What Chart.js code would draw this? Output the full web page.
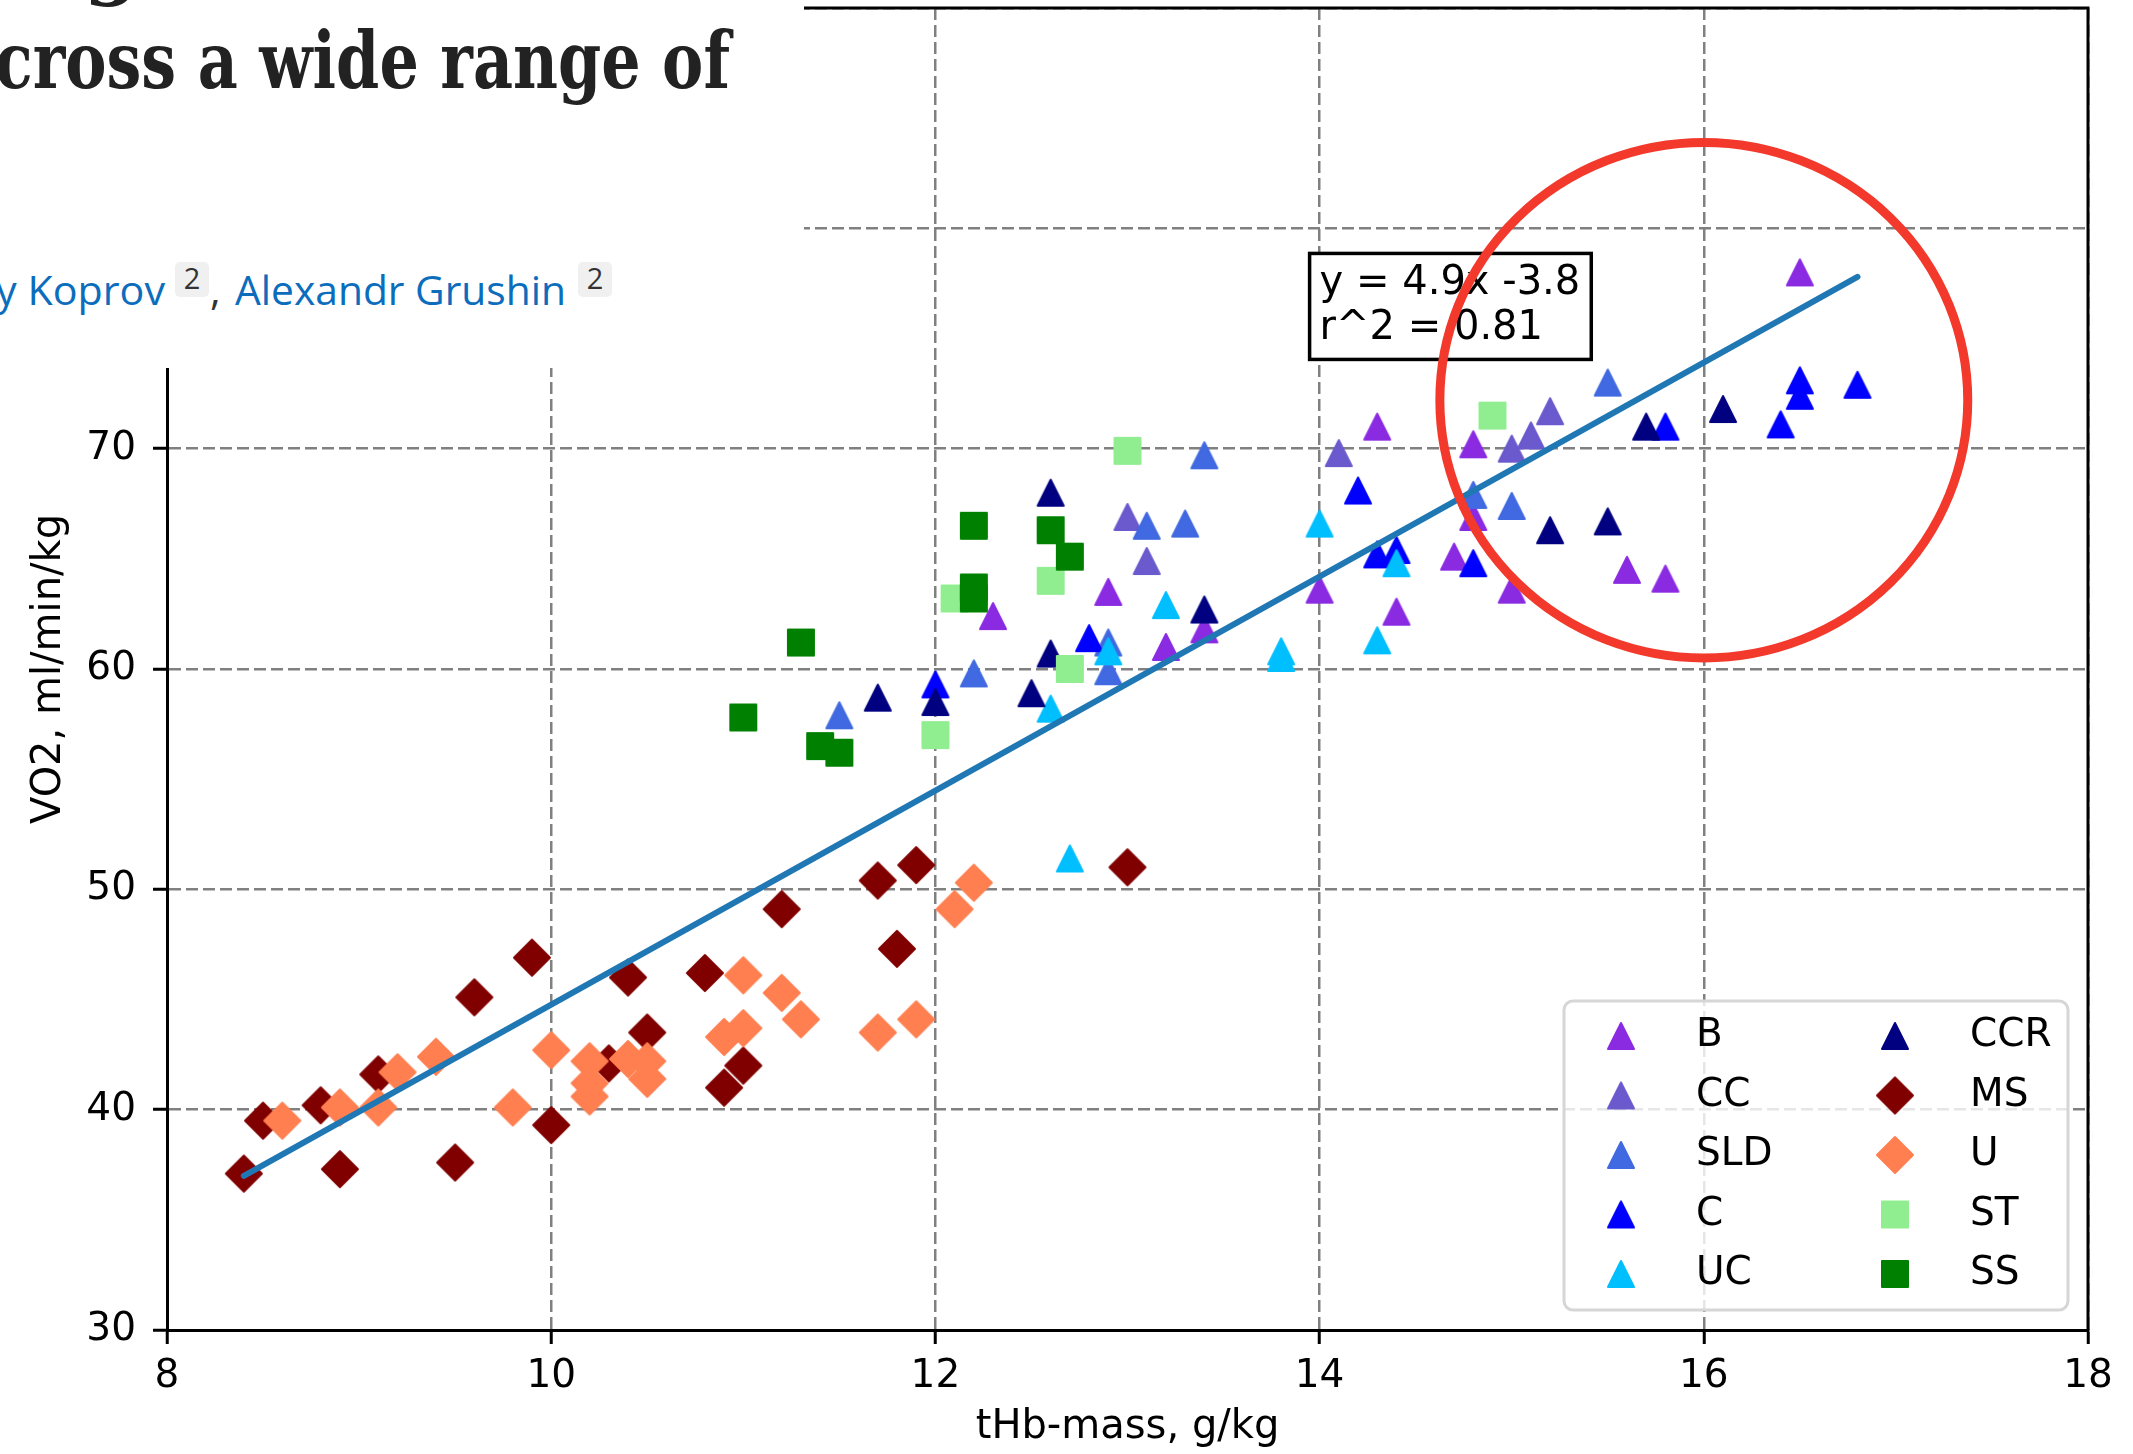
<!DOCTYPE html>
<html><head><meta charset="utf-8">
<script src="https://cdn.jsdelivr.net/npm/chart.js@4.4.0/dist/chart.umd.min.js"></script>
<style>
html,body{margin:0;padding:0;background:#fff;overflow:hidden;}
#wrap{position:relative;width:2133px;height:1454px;}
#c{position:absolute;left:0;top:0;}
#ov{position:absolute;left:0;top:0;}
</style></head><body>
<div id="wrap">
<canvas id="c" width="2133" height="1454"></canvas>
<svg id="ov" width="804" height="368" xmlns="http://www.w3.org/2000/svg">
  <rect x="0" y="0" width="804" height="368" fill="#ffffff"/>
  <text x="84" y="-10" font-family="DejaVu Serif" font-weight="bold" font-size="78" fill="#222">g</text>
  <text x="-5" y="88" font-family="DejaVu Serif" font-weight="bold" font-size="78" fill="#222" textLength="735" lengthAdjust="spacingAndGlyphs">cross a wide range of</text>
  <text x="-4" y="305" font-family="Open Sans" font-size="41" fill="#0c6dbd" textLength="169" lengthAdjust="spacingAndGlyphs">y Koprov</text>
  <rect x="175" y="262" width="34" height="35" rx="5" fill="#f0f0f0"/>
  <text x="192" y="289" text-anchor="middle" font-family="Open Sans" font-size="29" fill="#333">2</text>
  <text x="210" y="305" font-family="Open Sans" font-size="41" fill="#333">,</text>
  <text x="235" y="305" font-family="Open Sans" font-size="41" fill="#0c6dbd" textLength="331" lengthAdjust="spacingAndGlyphs">Alexandr Grushin</text>
  <rect x="578" y="262" width="34" height="35" rx="5" fill="#f0f0f0"/>
  <text x="595" y="289" text-anchor="middle" font-family="Open Sans" font-size="29" fill="#333">2</text>
</svg>
</div>
<script>
// ---------- DATA ----------
const categories = ['B','CC','SLD','C','UC','CCR','MS','U','ST','SS'];
const colors = ['#8a2be2','#6a5acd','#4169e1','#0000ff','#00bfff','#000080','#800000','#ff7f50','#90ee90','#008000'];
const shapes = ['tri','tri','tri','tri','tri','tri','dia','dia','sq','sq'];

const B_x = [16.5, 14.8, 14.3, 14.8, 14.7, 15.0, 15.6, 15.8, 14.0, 14.4, 12.9, 12.3, 13.4, 13.2];
const B_y = [78.0, 70.2, 71.0, 66.9, 65.1, 63.6, 64.5, 64.1, 63.6, 62.6, 63.5, 62.4, 61.8, 61.0];

const CC_x = [15.2, 15.1, 15.0, 14.1, 13.0, 13.1];
const CC_y = [71.7, 70.6, 70.0, 69.8, 66.9, 64.9];

const SLD_x = [15.5, 13.4, 14.8, 15.0, 13.1, 13.3, 12.9, 12.9, 12.2, 11.5];
const SLD_y = [73.0, 69.7, 67.9, 67.4, 66.5, 66.6, 61.2, 59.9, 59.8, 57.9];

const C_x = [16.5, 16.5, 16.8, 16.4, 15.8, 14.2, 14.8, 14.3, 14.4, 12.8, 12.0];
const C_y = [73.1, 72.4, 72.9, 71.1, 71.0, 68.1, 64.8, 65.2, 65.4, 61.4, 59.3];

const UC_x = [14.0, 14.4, 13.2, 14.3, 12.9, 13.8, 13.8, 12.6, 12.7];
const UC_y = [66.6, 64.8, 62.9, 61.3, 60.8, 60.8, 60.5, 58.2, 51.4];

const CCR_x = [16.1, 15.7, 12.6, 15.2, 15.5, 13.4, 12.6, 12.5, 12.0, 11.7];
const CCR_y = [71.8, 71.0, 68.0, 66.3, 66.7, 62.7, 60.7, 58.9, 58.5, 58.7];

const MS_x = [8.4, 8.5, 8.8, 8.9, 9.1, 9.5, 9.6, 9.9, 10.0, 10.3, 10.4, 10.5, 10.8, 10.9, 11.0, 11.2, 11.7, 11.8, 11.9, 13.0];
const MS_y = [37.1, 39.5, 40.2, 37.3, 41.6, 37.6, 45.1, 46.9, 39.3, 42.1, 46.0, 43.5, 46.2, 41.0, 42.0, 49.1, 50.4, 47.3, 51.1, 51.0];

const U_x = [8.6, 8.9, 9.1, 9.2, 9.4, 9.8, 10.0, 10.2, 10.2, 10.2, 10.4, 10.5, 10.5, 10.9, 11.0, 11.0, 11.2, 11.3, 11.7, 11.9, 12.1, 12.2];
const U_y = [39.5, 40.1, 40.1, 41.7, 42.4, 40.1, 42.7, 42.2, 41.2, 40.6, 42.3, 42.2, 41.4, 43.3, 43.7, 46.1, 45.3, 44.1, 43.5, 44.1, 49.1, 50.3];

const ST_x = [13.0, 12.6, 12.7, 12.0, 12.1, 14.9];
const ST_y = [69.9, 64.0, 60.0, 57.0, 63.2, 71.5];

const SS_x = [11.0, 11.3, 11.4, 11.5, 12.2, 12.2, 12.2, 12.6, 12.7];
const SS_y = [57.8, 61.2, 56.5, 56.2, 66.5, 63.7, 63.2, 66.3, 65.1];

const fitX = [8.4, 16.8];
const fitY = [37.0, 77.8];
const fitText = ['y = 4.9x -3.8', 'r^2 = 0.81'];
const fitTextAt = {x: 14.0, y: 77.0};

const xTicks = [8, 10, 12, 14, 16, 18];
const yTicks = [30, 40, 50, 60, 70, 80, 90];
const xTitle = 'tHb-mass, g/kg';
const yTitle = 'VO2, ml/min/kg';

const highlight = {x: 16.0, y: 72.2, rx: 1.374, ry: 11.7};

const seriesX = [B_x, CC_x, SLD_x, C_x, UC_x, CCR_x, MS_x, U_x, ST_x, SS_x];
const seriesY = [B_y, CC_y, SLD_y, C_y, UC_y, CCR_y, MS_y, U_y, ST_y, SS_y];

// ---------- MARKERS ----------
function makeMarker(shape, color){
  const cv = document.createElement('canvas');
  const s = shape === 'dia' ? 42 : 32;
  cv.width = s; cv.height = s;
  const g = cv.getContext('2d');
  const c = s/2;
  g.fillStyle = color; g.strokeStyle = color; g.lineWidth = 2; g.lineJoin = 'round';
  g.beginPath();
  if (shape === 'tri'){
    g.moveTo(c, c-13); g.lineTo(c+13, c+13); g.lineTo(c-13, c+13);
  } else if (shape === 'dia'){
    g.moveTo(c, c-18); g.lineTo(c+18, c); g.lineTo(c, c+18); g.lineTo(c-18, c);
  } else {
    g.rect(c-13, c-13, 26, 26);
  }
  g.closePath(); g.fill(); g.stroke();
  return cv;
}
const markers = categories.map((k,i)=>makeMarker(shapes[i], colors[i]));

const datasets = categories.map((name,i)=>({
  type: 'scatter',
  label: name,
  data: seriesX[i].map((x,j)=>({x:x, y:seriesY[i][j]})),
  pointStyle: markers[i],
  pointRadius: 14,
  backgroundColor: colors[i],
  borderColor: colors[i],
  order: 20 - i
}));
datasets.push({
  type: 'scatter',
  label: 'fit',
  data: fitX.map((x,j)=>({x:x, y:fitY[j]})),
  showLine: true,
  pointRadius: 0,
  borderColor: '#1f77b4',
  borderWidth: 6,
  borderCapStyle: 'round',
  order: 0
});

const FONT = 'DejaVu Sans';

const overlayPlugin = {
  id: 'overlay',
  afterDraw(chart){
    const {ctx, chartArea: a, scales: {x, y}} = chart;
    ctx.save();
    // top and right spines
    ctx.strokeStyle = '#000'; ctx.lineWidth = 3;
    ctx.beginPath();
    ctx.moveTo(a.left, a.top); ctx.lineTo(a.right, a.top); ctx.lineTo(a.right, a.bottom);
    ctx.stroke();

    // regression text box
    ctx.font = '40px "' + FONT + '"';
    const tx = x.getPixelForValue(fitTextAt.x), ty = y.getPixelForValue(fitTextAt.y);
    const w = Math.max(...fitText.map(t=>ctx.measureText(t).width));
    ctx.fillStyle = '#fff';
    ctx.fillRect(tx-10, ty-41, w+21, 106);
    ctx.lineWidth = 3.5; ctx.strokeStyle = '#000';
    ctx.strokeRect(tx-10, ty-41, w+21, 106);
    ctx.fillStyle = '#000'; ctx.textBaseline = 'alphabetic'; ctx.textAlign = 'left';
    fitText.forEach((t,i)=>ctx.fillText(t, tx, ty + i*45));

    // legend
    const lw = 504, lh = 309;
    const lx = a.right - 20 - lw, ly = a.bottom - 20 - lh;
    ctx.beginPath();
    ctx.roundRect(lx, ly, lw, lh, 9);
    ctx.fillStyle = 'rgba(255,255,255,0.8)'; ctx.fill();
    ctx.lineWidth = 3; ctx.strokeStyle = '#d6d6d6'; ctx.stroke();
    ctx.font = '39px "' + FONT + '"';
    ctx.textBaseline = 'middle'; ctx.fillStyle = '#000';
    categories.forEach((name,i)=>{
      const col = Math.floor(i/5), row = i%5;
      const mx = lx + 57 + col*274, my = ly + 35 + row*59.5;
      const m = markers[i];
      ctx.drawImage(m, mx - m.width/2, my - m.height/2);
      ctx.fillText(name, lx + 132 + col*274, my);
    });

    // highlight ellipse
    const cx = x.getPixelForValue(highlight.x), cy = y.getPixelForValue(highlight.y);
    const rx = Math.abs(x.getPixelForValue(highlight.x + highlight.rx) - cx);
    const ry = Math.abs(y.getPixelForValue(highlight.y + highlight.ry) - cy);
    ctx.beginPath();
    ctx.ellipse(cx, cy, rx, ry, 0, 0, Math.PI*2);
    ctx.lineWidth = 9; ctx.strokeStyle = '#f2392c'; ctx.stroke();
    ctx.restore();
  }
};

new Chart(document.getElementById('c'), {
  type: 'scatter',
  data: {datasets},
  plugins: [overlayPlugin],
  options: {
    responsive: false,
    animation: false,
    devicePixelRatio: 1,
    layout: {autoPadding: false, padding: {left: 0, top: 8, right: 45, bottom: 0}},
    plugins: {legend: {display: false}, tooltip: {enabled: false}},
    scales: {
      x: {
        type: 'linear', min: 8, max: 18,
        afterFit(s){ s.height = 124; s.paddingLeft = 0; s.paddingRight = 0; },
        afterBuildTicks(s){ s.ticks = xTicks.map(v=>({value:v})); },
        ticks: {font: {family: FONT, size: 39}, color: '#000', padding: 9},
        grid: {color: '#808080', lineWidth: 2.5, tickColor: '#000', tickLength: 14, tickWidth: 3},
        border: {color: '#000', width: 3, dash: [12, 5]},
        title: {display: true, text: xTitle, font: {family: FONT, size: 40}, color: '#000', padding: {top: 0, bottom: 2}}
      },
      y: {
        type: 'linear', min: 30, max: 90,
        afterFit(s){ s.width = 167; s.paddingTop = 0; s.paddingBottom = 0; },
        afterBuildTicks(s){ s.ticks = yTicks.map(v=>({value:v})); },
        ticks: {font: {family: FONT, size: 39}, color: '#000', padding: 17},
        grid: {color: '#808080', lineWidth: 2.5, tickColor: '#000', tickLength: 14, tickWidth: 3},
        border: {color: '#000', width: 3, dash: [12, 5]},
        title: {display: true, text: yTitle, font: {family: FONT, size: 40}, color: '#000', padding: {top: 26, bottom: 0}}
      }
    }
  }
});
</script>
</body></html>
